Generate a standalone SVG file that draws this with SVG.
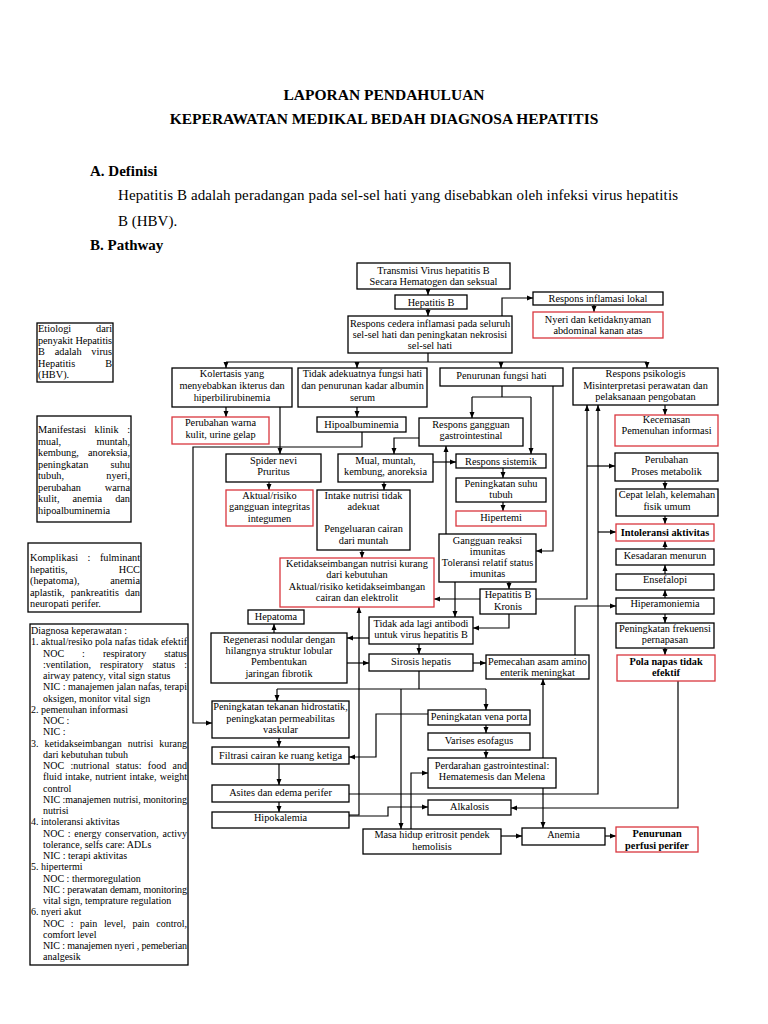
<svg xmlns="http://www.w3.org/2000/svg" width="768" height="1024" viewBox="0 0 768 1024">
<style>
.b{fill:#fff;stroke:#000;stroke-width:1.3}
.r{fill:#fff;stroke:#d9363e;stroke-width:1.3}
.t{font-family:"Liberation Serif","Times New Roman",serif;font-size:10.3px;fill:#000;text-anchor:middle}
.tb{font-weight:bold}
.l{font-family:"Liberation Serif","Times New Roman",serif;font-size:10.3px;fill:#000}
.e{text-anchor:end}
.d{font-family:"Liberation Serif","Times New Roman",serif;font-size:10px;fill:#000}
.h{font-family:"Liberation Serif","Times New Roman",serif;font-size:15px;fill:#000}
.hb{font-family:"Liberation Serif","Times New Roman",serif;font-size:15.5px;font-weight:bold;fill:#000;text-anchor:middle}
.c{fill:none;stroke:#000;stroke-width:1.2}
</style>
<defs>
<marker id="a" viewBox="0 0 6 6" refX="6" refY="3" markerWidth="6" markerHeight="6" markerUnits="userSpaceOnUse" orient="auto"><path d="M0,0.5 L6,3 L0,5.5z" fill="#000"/></marker>
</defs>
<rect width="768" height="1024" fill="#fff"/>
<g id="header">
<text class="hb" x="384" y="100">LAPORAN PENDAHULUAN</text>
<text class="hb" x="384" y="124">KEPERAWATAN MEDIKAL BEDAH DIAGNOSA HEPATITIS</text>
<text class="h" x="90" y="176" font-weight="bold">A. Definisi</text>
<text class="h" x="118" y="200" textLength="560" lengthAdjust="spacing">Hepatitis B adalah peradangan pada sel-sel hati yang disebabkan oleh infeksi virus hepatitis</text>
<text class="h" x="118" y="226">B (HBV).</text>
<text class="h" x="90" y="250" font-weight="bold">B. Pathway</text>
</g>
<g id="connectors">
<path class="c" marker-end="url(#a)" d="M428,289 V295"/>
<path class="c" marker-end="url(#a)" d="M428,309 V316"/>
<path class="c" marker-end="url(#a)" d="M502,316 V298 H533"/>
<path class="c" marker-end="url(#a)" d="M594,305 V312"/>
<path class="c" d="M428,353 V362 M226,362 H647"/>
<path class="c" marker-end="url(#a)" d="M226,362 V368"/>
<path class="c" marker-end="url(#a)" d="M357,362 V368"/>
<path class="c" marker-end="url(#a)" d="M501,362 V368"/>
<path class="c" marker-end="url(#a)" d="M647,362 V368"/>
<path class="c" marker-end="url(#a)" d="M226,407 V417"/>
<path class="c" marker-end="url(#a)" d="M280,407 V454"/>
<path class="c" marker-end="url(#a)" d="M357,407 V417"/>
<path class="c" marker-end="url(#a)" d="M362,432 V447 H193 V723 H212"/>
<path class="c" d="M502,386 V397 M472,397 H531"/>
<path class="c" marker-end="url(#a)" d="M472,397 V418"/>
<path class="c" marker-end="url(#a)" d="M531,397 V454"/>
<path class="c" marker-end="url(#a)" d="M553,386 V551 H536"/>
<path class="c" marker-end="url(#a)" d="M665,405 V415"/>
<path class="c" marker-end="url(#a)" d="M419,438 H394 V454"/>
<path class="c" marker-end="url(#a)" d="M433,462 H456"/>
<path class="c" marker-end="url(#a)" d="M503,468 V478"/>
<path class="c" marker-end="url(#a)" d="M503,502 V511"/>
<path class="c" marker-end="url(#a)" d="M269,482 V490"/>
<path class="c" marker-end="url(#a)" d="M384,482 V490"/>
<path class="c" marker-end="url(#a)" d="M362,550 V558"/>
<path class="c" marker-end="url(#a)" d="M446,534 V446"/>
<path class="c" marker-end="url(#a)" d="M509,582 V589"/>
<path class="c" marker-end="url(#a)" d="M455,582 V617"/>
<path class="c" marker-end="url(#a)" d="M480,599 H434"/>
<path class="c" marker-end="url(#a)" d="M536,599 H587 V405"/>
<path class="c" marker-end="url(#a)" d="M587,466 H615"/>
<path class="c" marker-end="url(#a)" d="M349,794 H598 V405"/>
<path class="c" marker-end="url(#a)" d="M598,532 H616"/>
<path class="c" marker-end="url(#a)" d="M665,481 V489"/>
<path class="c" marker-end="url(#a)" d="M665,516 V524"/>
<path class="c" marker-end="url(#a)" d="M665,549 V541"/>
<path class="c" marker-end="url(#a)" d="M665,574 V565"/>
<path class="c" marker-end="url(#a)" d="M665,598 V590"/>
<path class="c" marker-end="url(#a)" d="M665,614 V623"/>
<path class="c" marker-end="url(#a)" d="M665,648 V655"/>
<path class="c" marker-end="url(#a)" d="M678,681 V808 H511"/>
<path class="c" marker-end="url(#a)" d="M509,614 V628 H473"/>
<path class="c" marker-end="url(#a)" d="M419,644 V654"/>
<path class="c" marker-end="url(#a)" d="M369,638 H347"/>
<path class="c" marker-end="url(#a)" d="M274,633 V624"/>
<path class="c" marker-end="url(#a)" d="M347,663 H369"/>
<path class="c" marker-end="url(#a)" d="M473,663 H486"/>
<path class="c" marker-end="url(#a)" d="M575,655 V606 H616"/>
<path class="c" d="M419,671 V689 M277,689 H486"/>
<path class="c" marker-end="url(#a)" d="M277,689 V701"/>
<path class="c" marker-end="url(#a)" d="M486,689 V710"/>
<path class="c" marker-end="url(#a)" d="M401,689 V829"/>
<path class="c" marker-end="url(#a)" d="M349,815 H359 V607"/>
<path class="c" marker-end="url(#a)" d="M349,816 H388 V807 H428"/>
<path class="c" marker-end="url(#a)" d="M279,738 V747"/>
<path class="c" marker-end="url(#a)" d="M279,764 V785"/>
<path class="c" marker-end="url(#a)" d="M279,802 V812"/>
<path class="c" marker-end="url(#a)" d="M486,725 V733"/>
<path class="c" marker-end="url(#a)" d="M486,750 V758"/>
<path class="c" marker-end="url(#a)" d="M428,714 H376 V757 H349"/>
<path class="c" marker-end="url(#a)" d="M543,788 V828"/>
<path class="c" marker-end="url(#a)" d="M543,758 V679"/>
<path class="c" marker-end="url(#a)" d="M411,829 V773 H428"/>
<path class="c" marker-end="url(#a)" d="M501,836 H522"/>
<path class="c" marker-end="url(#a)" d="M605,836 H616"/>
</g>
<g id="n-transmisi"><rect class="b" x="357" y="263" width="153" height="26"/><text class="t"><tspan x="433.5" y="274">Transmisi Virus hepatitis B</tspan><tspan x="433.5" y="285">Secara Hematogen dan seksual</tspan></text></g>
<g id="n-hepatitisb"><rect class="b" x="395" y="295" width="72" height="14"/><text class="t" x="431" y="305.5">Hepatitis B</text></g>
<g id="n-respons-cedera"><rect class="b" x="348" y="316" width="164" height="37"/><text class="t"><tspan x="430" y="327">Respons cedera inflamasi pada seluruh</tspan><tspan x="430" y="338">sel-sel hati dan peningkatan nekrosisi</tspan><tspan x="430" y="349">sel-sel hati</tspan></text></g>
<g id="n-inflamasi-lokal"><rect class="b" x="533" y="292" width="130" height="13"/><text class="t" x="598" y="302">Respons inflamasi lokal</text></g>
<g id="n-nyeri"><rect class="r" x="533" y="312" width="130" height="26"/><text class="t"><tspan x="598" y="323">Nyeri dan ketidaknyaman</tspan><tspan x="598" y="334">abdominal kanan atas</tspan></text></g>
<g id="n-kolertasis"><rect class="b" x="172" y="368" width="120" height="39"/><text class="t"><tspan x="232" y="377">Kolertasis yang</tspan><tspan x="232" y="389">menyebabkan ikterus dan</tspan><tspan x="232" y="401">hiperbilirubinemia</tspan></text></g>
<g id="n-tidak-adekuat"><rect class="b" x="298" y="368" width="129" height="39"/><text class="t"><tspan x="362.5" y="377">Tidak adekuatnya fungsi hati</tspan><tspan x="362.5" y="389">dan penurunan kadar albumin</tspan><tspan x="362.5" y="401">serum</tspan></text></g>
<g id="n-penurunan-fungsi"><rect class="b" x="440" y="368" width="123" height="18"/><text class="t" x="501.5" y="379">Penurunan fungsi hati</text></g>
<g id="n-psikologis"><rect class="b" x="573" y="368" width="145" height="37"/><text class="t"><tspan x="645.5" y="377">Respons psikologis</tspan><tspan x="645.5" y="389">Misinterpretasi perawatan dan</tspan><tspan x="645.5" y="400">pelaksanaan pengobatan</tspan></text></g>
<g id="n-perubahan-warna"><rect class="r" x="172" y="417" width="97" height="27"/><text class="t"><tspan x="220.5" y="426">Perubahan warna</tspan><tspan x="220.5" y="438">kulit, urine gelap</tspan></text></g>
<g id="n-hipoalbuminemia"><rect class="b" x="317" y="417" width="89" height="15"/><text class="t" x="361.5" y="428">Hipoalbuminemia</text></g>
<g id="n-gastro"><rect class="b" x="419" y="418" width="104" height="28"/><text class="t"><tspan x="471" y="428">Respons gangguan</tspan><tspan x="471" y="439">gastrointestinal</tspan></text></g>
<g id="n-kecemasan"><rect class="r" x="615" y="415" width="103" height="31"/><text class="t"><tspan x="666.5" y="423">Kecemasan</tspan><tspan x="666.5" y="434">Pemenuhan informasi</tspan></text></g>
<g id="n-spider"><rect class="b" x="226" y="454" width="95" height="28"/><text class="t"><tspan x="273.5" y="464">Spider nevi</tspan><tspan x="273.5" y="475">Pruritus</tspan></text></g>
<g id="n-mual"><rect class="b" x="338" y="454" width="95" height="28"/><text class="t"><tspan x="385.5" y="464">Mual, muntah,</tspan><tspan x="385.5" y="475">kembung, anoreksia</tspan></text></g>
<g id="n-sistemik"><rect class="b" x="456" y="454" width="90" height="14"/><text class="t" x="501" y="464.5">Respons sistemik</text></g>
<g id="n-suhu"><rect class="b" x="456" y="478" width="90" height="24"/><text class="t"><tspan x="501" y="487">Peningkatan suhu</tspan><tspan x="501" y="498">tubuh</tspan></text></g>
<g id="n-hipertemi"><rect class="r" x="456" y="511" width="90" height="15"/><text class="t" x="501" y="521">Hipertemi</text></g>
<g id="n-metabolik"><rect class="b" x="615" y="453" width="103" height="28"/><text class="t"><tspan x="666.5" y="463">Perubahan</tspan><tspan x="666.5" y="475">Proses metabolik</tspan></text></g>
<g id="n-cepat-lelah"><rect class="b" x="616" y="489" width="102" height="27"/><text class="t"><tspan x="667" y="498">Cepat lelah, kelemahan</tspan><tspan x="667" y="510">fisik umum</tspan></text></g>
<g id="n-integumen"><rect class="r" x="226" y="490" width="87" height="36"/><text class="t"><tspan x="269.5" y="499">Aktual/risiko</tspan><tspan x="269.5" y="510">gangguan integritas</tspan><tspan x="269.5" y="522">integumen</tspan></text></g>
<g id="n-intake"><rect class="b" x="317" y="490" width="93" height="60"/><text class="t"><tspan x="363.5" y="499">Intake nutrisi tidak</tspan><tspan x="363.5" y="510">adekuat</tspan><tspan x="363.5" y="532">Pengeluaran cairan</tspan><tspan x="363.5" y="544">dari muntah</tspan></text></g>
<g id="n-ketidakseimbangan"><rect class="r" x="280" y="558" width="154" height="49"/><text class="t"><tspan x="357" y="567">Ketidakseimbangan nutrisi kurang</tspan><tspan x="357" y="578">dari kebutuhan</tspan><tspan x="357" y="590">Aktual/risiko ketidakseimbangan</tspan><tspan x="357" y="601">cairan dan elektrolit</tspan></text></g>
<g id="n-imunitas"><rect class="b" x="439" y="534" width="97" height="48"/><text class="t"><tspan x="487.5" y="544">Gangguan reaksi</tspan><tspan x="487.5" y="555">imunitas</tspan><tspan x="487.5" y="566">Toleransi relatif status</tspan><tspan x="487.5" y="577">imunitas</tspan></text></g>
<g id="n-hbk"><rect class="b" x="480" y="589" width="56" height="25"/><text class="t"><tspan x="508" y="598">Hepatitis B</tspan><tspan x="508" y="610">Kronis</tspan></text></g>
<g id="n-intoleransi"><rect class="r" x="616" y="524" width="98" height="17"/><text class="t tb" x="665" y="535.5">Intoleransi aktivitas</text></g>
<g id="n-kesadaran"><rect class="b" x="616" y="549" width="98" height="16"/><text class="t" x="665" y="559">Kesadaran menurun</text></g>
<g id="n-ensefalopi"><rect class="b" x="616" y="574" width="98" height="16"/><text class="t" x="665" y="583">Ensefalopi</text></g>
<g id="n-hiperamoniemia"><rect class="b" x="616" y="598" width="98" height="16"/><text class="t" x="665" y="607">Hiperamoniemia</text></g>
<g id="n-frekuensi"><rect class="b" x="616" y="623" width="98" height="25"/><text class="t"><tspan x="665" y="632">Peningkatan frekuensi</tspan><tspan x="665" y="643">pernapasan</tspan></text></g>
<g id="n-pola-napas"><rect class="r" x="617" y="655" width="98" height="26"/><text class="t tb"><tspan x="666" y="665">Pola napas tidak</tspan><tspan x="666" y="676">efektif</tspan></text></g>
<g id="n-hepatoma"><rect class="b" x="248" y="610" width="56" height="14"/><text class="t" x="276" y="620">Hepatoma</text></g>
<g id="n-regenerasi"><rect class="b" x="211" y="633" width="136" height="50"/><text class="t"><tspan x="279" y="643">Regenerasi nodular dengan</tspan><tspan x="279" y="654">hilangnya struktur lobular</tspan><tspan x="279" y="665">Pembentukan</tspan><tspan x="279" y="677">jaringan fibrotik</tspan></text></g>
<g id="n-antibodi"><rect class="b" x="369" y="617" width="104" height="27"/><text class="t"><tspan x="421" y="627">Tidak ada lagi antibodi</tspan><tspan x="421" y="638">untuk virus hepatitis B</tspan></text></g>
<g id="n-sirosis"><rect class="b" x="369" y="654" width="104" height="17"/><text class="t" x="421" y="665">Sirosis hepatis</text></g>
<g id="n-asam-amino"><rect class="b" x="486" y="655" width="103" height="24"/><text class="t"><tspan x="537.5" y="665">Pemecahan asam amino</tspan><tspan x="537.5" y="676">enterik meningkat</tspan></text></g>
<g id="n-hidrostatik"><rect class="b" x="212" y="701" width="137" height="37"/><text class="t"><tspan x="280.5" y="710">Peningkatan tekanan hidrostatik,</tspan><tspan x="280.5" y="722">peningkatan permeabilitas</tspan><tspan x="280.5" y="733">vaskular</tspan></text></g>
<g id="n-filtrasi"><rect class="b" x="212" y="747" width="137" height="17"/><text class="t" x="280.5" y="759">Filtrasi cairan ke ruang ketiga</text></g>
<g id="n-asites"><rect class="b" x="212" y="785" width="137" height="17"/><text class="t" x="280.5" y="796">Asites dan edema perifer</text></g>
<g id="n-hipokalemia"><rect class="b" x="212" y="812" width="137" height="16"/><text class="t" x="280.5" y="821">Hipokalemia</text></g>
<g id="n-vena-porta"><rect class="b" x="428" y="710" width="102" height="15"/><text class="t" x="479" y="720">Peningkatan vena porta</text></g>
<g id="n-varises"><rect class="b" x="428" y="733" width="102" height="17"/><text class="t" x="479" y="744">Varises esofagus</text></g>
<g id="n-perdarahan"><rect class="b" x="428" y="758" width="128" height="30"/><text class="t"><tspan x="492" y="769">Perdarahan gastrointestinal:</tspan><tspan x="492" y="780">Hematemesis dan Melena</tspan></text></g>
<g id="n-alkalosis"><rect class="b" x="428" y="800" width="83" height="15"/><text class="t" x="469.5" y="810">Alkalosis</text></g>
<g id="n-eritrosit"><rect class="b" x="363" y="829" width="138" height="25"/><text class="t"><tspan x="432" y="838">Masa hidup eritrosit pendek</tspan><tspan x="432" y="850">hemolisis</tspan></text></g>
<g id="n-anemia"><rect class="b" x="522" y="828" width="83" height="17"/><text class="t" x="563.5" y="838">Anemia</text></g>
<g id="n-perfusi"><rect class="r" x="616" y="827" width="82" height="25"/><text class="t tb"><tspan x="657" y="837">Penurunan</tspan><tspan x="657" y="849">perfusi perifer</tspan></text></g>
<g id="n-etiologi"><rect class="b" x="37" y="323" width="76" height="59"/>
<text class="l" x="38" y="332">Etiologi</text><text class="l e" x="112" y="332">dari</text>
<text class="l" x="38" y="343.5" textLength="74" lengthAdjust="spacing">penyakit Hepatitis</text>
<text class="l" x="38" y="355" word-spacing="7.2" textLength="74" lengthAdjust="spacing">B adalah virus</text>
<text class="l" x="38" y="366.5">Hepatitis</text><text class="l e" x="112" y="366.5">B</text>
<text class="l" x="38" y="378">(HBV).</text></g>
<g id="n-manifestasi"><rect class="b" x="37" y="416" width="94" height="106"/>
<text class="l" x="38" y="433" word-spacing="5.9" textLength="92" lengthAdjust="spacing">Manifestasi klinik :</text>
<text class="l" x="38" y="444.5">mual,</text><text class="l e" x="130" y="444.5">muntah,</text>
<text class="l" x="38" y="456">kembung,</text><text class="l e" x="130" y="456">anoreksia,</text>
<text class="l" x="38" y="467.5">peningkatan</text><text class="l e" x="130" y="467.5">suhu</text>
<text class="l" x="38" y="479">tubuh,</text><text class="l e" x="130" y="479">nyeri,</text>
<text class="l" x="38" y="490.5">perubahan</text><text class="l e" x="130" y="490.5">warna</text>
<text class="l" x="38" y="502" word-spacing="10.4" textLength="92" lengthAdjust="spacing">kulit, anemia dan</text>
<text class="l" x="38" y="513.5">hipoalbuminemia</text></g>
<g id="n-komplikasi"><rect class="b" x="28" y="543" width="113" height="69"/>
<text class="l" x="30" y="561" word-spacing="6.9" textLength="110" lengthAdjust="spacing">Komplikasi : fulminant</text>
<text class="l" x="30" y="572.5">hepatitis,</text><text class="l e" x="140" y="572.5">HCC</text>
<text class="l" x="30" y="584">(hepatoma),</text><text class="l e" x="140" y="584">anemia</text>
<text class="l" x="30" y="595.5" word-spacing="3.6" textLength="110" lengthAdjust="spacing">aplastik, pankreatitis dan</text>
<text class="l" x="30" y="607">neuropati perifer.</text></g>
<g id="n-diagnosa"><rect class="b" x="30" y="624" width="158" height="341"/><text class="d">
<tspan x="31" y="634">Diagnosa keperawatan :</tspan>
<tspan x="31" y="645.2" textLength="156" lengthAdjust="spacing">1. aktual/resiko pola nafas tidak efektif</tspan>
<tspan x="43" y="656.5" word-spacing="15.5" textLength="144" lengthAdjust="spacing">NOC : respiratory status</tspan>
<tspan x="43" y="667.7" word-spacing="6.5" textLength="144" lengthAdjust="spacing">:ventilation, respiratory status :</tspan>
<tspan x="43" y="679">airway patency, vital sign status</tspan>
<tspan x="43" y="690.2" textLength="144" lengthAdjust="spacing">NIC : manajemen jalan nafas, terapi</tspan>
<tspan x="43" y="701.5">oksigen, monitor vital sign</tspan>
<tspan x="31" y="712.7">2. pemenuhan informasi</tspan>
<tspan x="43" y="724">NOC :</tspan>
<tspan x="43" y="735.2">NIC :</tspan>
<tspan x="31" y="746.5" word-spacing="3.5" textLength="156" lengthAdjust="spacing">3. ketidakseimbangan nutrisi kurang</tspan>
<tspan x="43" y="757.7">dari kebutuhan tubuh</tspan>
<tspan x="43" y="769" word-spacing="3.9" textLength="144" lengthAdjust="spacing">NOC :nutrional status: food and</tspan>
<tspan x="43" y="780.2" word-spacing="0.7" textLength="144" lengthAdjust="spacing">fluid intake, nutrient intake, weight</tspan>
<tspan x="43" y="791.5">control</tspan>
<tspan x="43" y="802.7" textLength="144" lengthAdjust="spacing">NIC :manajemen nutrisi, monitoring</tspan>
<tspan x="43" y="814">nutrisi</tspan>
<tspan x="31" y="825.2">4. intoleransi aktivitas</tspan>
<tspan x="43" y="836.5" word-spacing="1.2" textLength="144" lengthAdjust="spacing">NOC : energy conservation, activy</tspan>
<tspan x="43" y="847.7">tolerance, selfs care: ADLs</tspan>
<tspan x="43" y="859">NIC : terapi aktivitas</tspan>
<tspan x="31" y="870.2">5. hipertermi</tspan>
<tspan x="43" y="881.5">NOC : thermoregulation</tspan>
<tspan x="43" y="892.7" textLength="144" lengthAdjust="spacing">NIC : perawatan demam, monitoring</tspan>
<tspan x="43" y="904">vital sign, temprature regulation</tspan>
<tspan x="31" y="915.2">6. nyeri akut</tspan>
<tspan x="43" y="926.5" word-spacing="4.1" textLength="144" lengthAdjust="spacing">NOC : pain level, pain control,</tspan>
<tspan x="43" y="937.7">comfort level</tspan>
<tspan x="43" y="949" textLength="144" lengthAdjust="spacing">NIC : manajemen nyeri , pemeberian</tspan>
<tspan x="43" y="960.2">analgesik</tspan>
</text></g>
</svg>
